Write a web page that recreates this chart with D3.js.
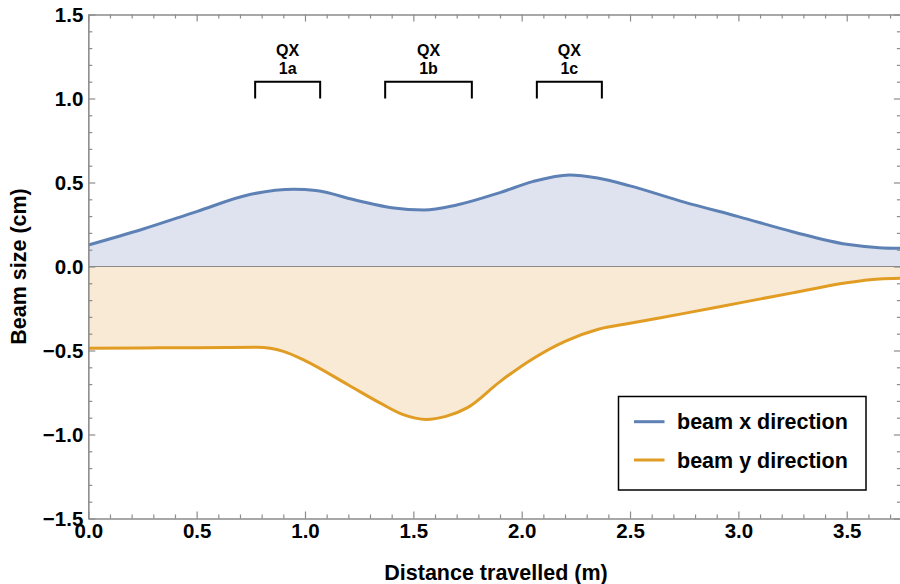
<!DOCTYPE html>
<html>
<head>
<meta charset="utf-8">
<script src="https://cdn.jsdelivr.net/npm/d3@7"></script>
<style>
  body { margin: 0; background: #fff; }
  svg { display: block; font-family: "Liberation Sans", Arial, sans-serif; font-weight: bold; }
</style>
</head>
<body>
<div id="chart"></div>
<script>
// beam envelope along the line
const distance = [0, 0.25, 0.5, 0.75, 0.95, 1.05, 1.25, 1.4, 1.55, 1.7, 1.9, 2.05, 2.22, 2.35, 2.5, 2.75, 3.0, 3.25, 3.5, 3.65, 3.75];
const beamX = [0.128, 0.222, 0.327, 0.43, 0.46, 0.452, 0.39, 0.35, 0.336, 0.366, 0.44, 0.505, 0.545, 0.527, 0.48, 0.383, 0.297, 0.207, 0.132, 0.112, 0.108];

const distanceY = [0, 0.25, 0.5, 0.78, 0.9, 1.0, 1.2, 1.35, 1.45, 1.56, 1.65, 1.75, 1.9, 2.05, 2.2, 2.35, 2.5, 2.75, 3.0, 3.25, 3.5, 3.65, 3.75];
const beamY = [-0.487, -0.485, -0.483, -0.481, -0.505, -0.56, -0.705, -0.815, -0.88, -0.91, -0.892, -0.84, -0.685, -0.55, -0.445, -0.375, -0.338, -0.279, -0.218, -0.157, -0.097, -0.075, -0.07];

// quadrupoles: name, start, end
const magnets = ["1a", "1b", "1c"];
const magnetStart = [0.77, 1.37, 2.07];
const magnetEnd = [1.07, 1.77, 2.37];

const xTicks = [0, 0.5, 1.0, 1.5, 2.0, 2.5, 3.0, 3.5];
const yTicks = [-1.5, -1.0, -0.5, 0, 0.5, 1.0, 1.5];
const seriesNames = ["beam x direction", "beam y direction"];

const width = 900, height = 584;
const blue = "#5e81b5", orange = "#e19c24";

const x = d3.scaleLinear().domain([0, 3.75]).range([88.3, 900.9]);
const y = d3.scaleLinear().domain([-1.5, 1.5]).range([518.5, 14.5]);

const svg = d3.select("#chart").append("svg")
  .attr("width", width)
  .attr("height", height);

const fmt = d3.format(".1f");
const minorX = d3.range(0, 3.76, 0.1).filter(v => Math.abs(v * 2 - Math.round(v * 2)) > 1e-6);
const minorY = d3.range(-1.5, 1.51, 0.1).filter(v => Math.abs(v * 2 - Math.round(v * 2)) > 1e-6);

// fills
const ptsX = distance.map((d, i) => [d, beamX[i]]);
const ptsY = distanceY.map((d, i) => [d, beamY[i]]);

const area = d3.area().x(d => x(d[0])).y0(y(0)).y1(d => y(d[1])).curve(d3.curveMonotoneX);
const line = d3.line().x(d => x(d[0])).y(d => y(d[1])).curve(d3.curveMonotoneX);

svg.append("path").attr("d", area(ptsX)).attr("fill", "#dee3ef");
svg.append("path").attr("d", area(ptsY)).attr("fill", "#f8ead5");

svg.append("line")
  .attr("x1", x(0)).attr("x2", x(3.75))
  .attr("y1", y(0)).attr("y2", y(0))
  .attr("stroke", "#8a8a8a").attr("stroke-width", 1.2);

svg.append("path").attr("d", line(ptsX)).attr("fill", "none")
  .attr("stroke", blue).attr("stroke-width", 3);
svg.append("path").attr("d", line(ptsY)).attr("fill", "none")
  .attr("stroke", orange).attr("stroke-width", 3);

// frame axes
function styleAxis(g) {
  g.select(".domain").attr("stroke", "#8c8c8c").attr("stroke-width", 1.2);
  g.selectAll(".tick line").attr("stroke", "#8c8c8c").attr("stroke-width", 1.2);
  g.selectAll("text").attr("fill", "#000").style("font-size", "20.5px").style("font-weight", "bold")
    .style("font-family", '"Liberation Sans", Arial, sans-serif');
}

svg.append("g").attr("transform", `translate(0,${y(-1.5)})`)
  .call(d3.axisBottom(x).tickValues(xTicks).tickFormat(fmt).tickSizeInner(-7).tickSizeOuter(0).tickPadding(5))
  .call(styleAxis);
svg.append("g").attr("transform", `translate(0,${y(-1.5)})`)
  .call(d3.axisBottom(x).tickValues(minorX).tickFormat("").tickSizeInner(-4).tickSizeOuter(0))
  .call(styleAxis);
svg.append("g").attr("transform", `translate(0,${y(1.5)})`)
  .call(d3.axisTop(x).tickValues(xTicks).tickFormat("").tickSizeInner(-7).tickSizeOuter(0))
  .call(styleAxis);
svg.append("g").attr("transform", `translate(0,${y(1.5)})`)
  .call(d3.axisTop(x).tickValues(minorX).tickFormat("").tickSizeInner(-4).tickSizeOuter(0))
  .call(styleAxis);

svg.append("g").attr("transform", `translate(${x(0)},0)`)
  .call(d3.axisLeft(y).tickValues(yTicks).tickFormat(fmt).tickSizeInner(-7).tickSizeOuter(0).tickPadding(5))
  .call(styleAxis);
svg.append("g").attr("transform", `translate(${x(0)},0)`)
  .call(d3.axisLeft(y).tickValues(minorY).tickFormat("").tickSizeInner(-4).tickSizeOuter(0))
  .call(styleAxis);
svg.append("g").attr("transform", `translate(${x(3.75)},0)`)
  .call(d3.axisRight(y).tickValues(yTicks).tickFormat("").tickSizeInner(-7).tickSizeOuter(0))
  .call(styleAxis);
svg.append("g").attr("transform", `translate(${x(3.75)},0)`)
  .call(d3.axisRight(y).tickValues(minorY).tickFormat("").tickSizeInner(-4).tickSizeOuter(0))
  .call(styleAxis);

// axis titles
svg.append("text")
  .attr("x", 496).attr("y", 580)
  .attr("text-anchor", "middle")
  .style("font-size", "21.5px")
  .text("Distance travelled (m)");

svg.append("text")
  .attr("transform", `translate(26,${y(0)}) rotate(-90)`)
  .attr("text-anchor", "middle")
  .style("font-size", "21.5px")
  .text("Beam size (cm)");

// quadrupole brackets
magnets.forEach((m, i) => {
  const x0 = x(magnetStart[i]), x1 = x(magnetEnd[i]);
  svg.append("path")
    .attr("d", `M${x0},${y(1.0)}V${y(1.1)}H${x1}V${y(1.0)}`)
    .attr("fill", "none").attr("stroke", "#000").attr("stroke-width", 2);
  const cx = (x0 + x1) / 2;
  svg.append("text").attr("x", cx).attr("y", 55.5)
    .attr("text-anchor", "middle").style("font-size", "16px").text("QX");
  svg.append("text").attr("x", cx).attr("y", 74)
    .attr("text-anchor", "middle").style("font-size", "16px").text(m);
});

// legend
const legend = svg.append("g");
legend.append("rect")
  .attr("x", 618.5).attr("y", 396.5).attr("width", 247.5).attr("height", 93.5)
  .attr("fill", "#fff").attr("stroke", "#000").attr("stroke-width", 1.5);
[blue, orange].forEach((c, i) => {
  const ly = 421.7 + i * 38.3;
  legend.append("line")
    .attr("x1", 634).attr("x2", 664.5).attr("y1", ly).attr("y2", ly)
    .attr("stroke", c).attr("stroke-width", 3);
  legend.append("text")
    .attr("x", 677).attr("y", ly + 7.5)
    .style("font-size", "21.5px")
    .text(seriesNames[i]);
});
</script>
</body>
</html>
